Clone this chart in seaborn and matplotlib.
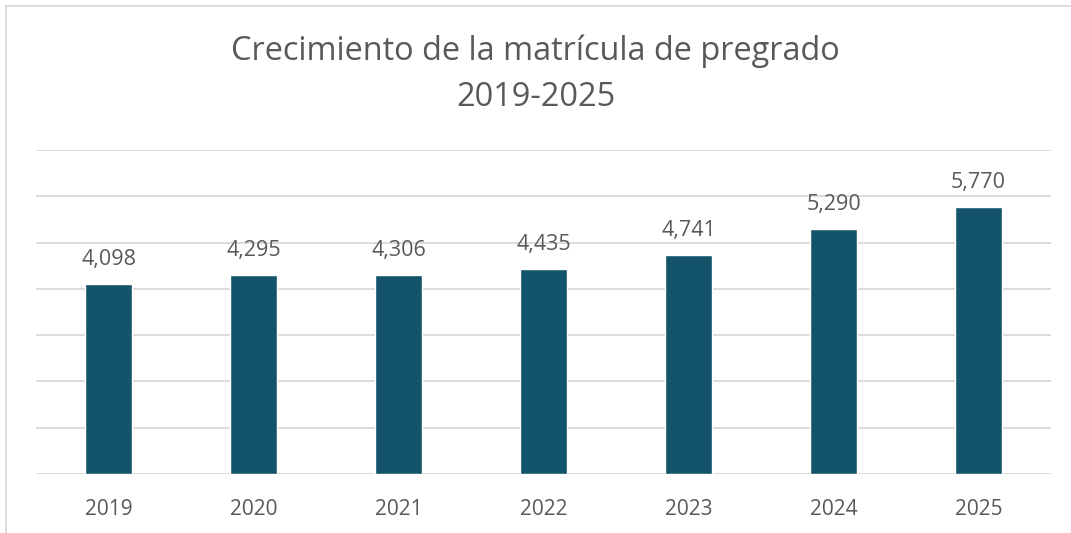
import matplotlib
matplotlib.use("Agg")
import matplotlib.pyplot as plt
import matplotlib.patches as mpatches
import pandas as pd
import seaborn as sns

# Chart data
years = ["2019", "2020", "2021", "2022", "2023", "2024", "2025"]
enrollment = [4098, 4295, 4306, 4435, 4741, 5290, 5770]
title_lines = ["Crecimiento de la matrícula de pregrado", "2019-2025"]

bar_color = "#14546B"
text_color = "#595959"
grid_color = "#D9D9D9"

sns.set_theme(style="white")
plt.rcParams['font.family'] = ['Open Sans', 'DejaVu Sans']

df = pd.DataFrame({"year": years, "value": enrollment})

fig = plt.figure(figsize=(10.71, 5.33), dpi=100)
ax = fig.add_axes([36 / 1071, 1 - 474 / 533, (1051 - 36) / 1071, (474 - 150) / 533])

sns.barplot(data=df, x="year", y="value", color=bar_color, width=0.32,
            saturation=1, ax=ax)

ax.set_ylim(0, 7000)
ax.set_yticks(range(0, 7001, 1000))
ax.yaxis.grid(True, color=grid_color, linewidth=1.3)
ax.set_axisbelow(True)
ax.tick_params(axis="y", left=False, labelleft=False)
ax.tick_params(axis="x", bottom=False, labelsize=15, colors=text_color, pad=12)
ax.set_xlabel("")
ax.set_ylabel("")
for s in ax.spines.values():
    s.set_visible(False)

for c in ax.containers:
    ax.bar_label(c, labels=[f"{v:,}" for v in enrollment], padding=10,
                 fontsize=15.5, color=text_color)

# title in two lines
fig.text(0.5, 1 - 51 / 533, title_lines[0], ha="center", va="center",
         fontsize=23.4, color=text_color)
fig.text(0.5, 1 - 98 / 533, title_lines[1], ha="center", va="center",
         fontsize=23.4, color=text_color)

# light chart frame
fig.patches.append(mpatches.Rectangle((6 / 1071, -0.05), 1.2, 1.05 - 6 / 533,
                                      transform=fig.transFigure, fill=False,
                                      edgecolor=grid_color, linewidth=1.3))

fig.savefig("out.png", dpi=100)
